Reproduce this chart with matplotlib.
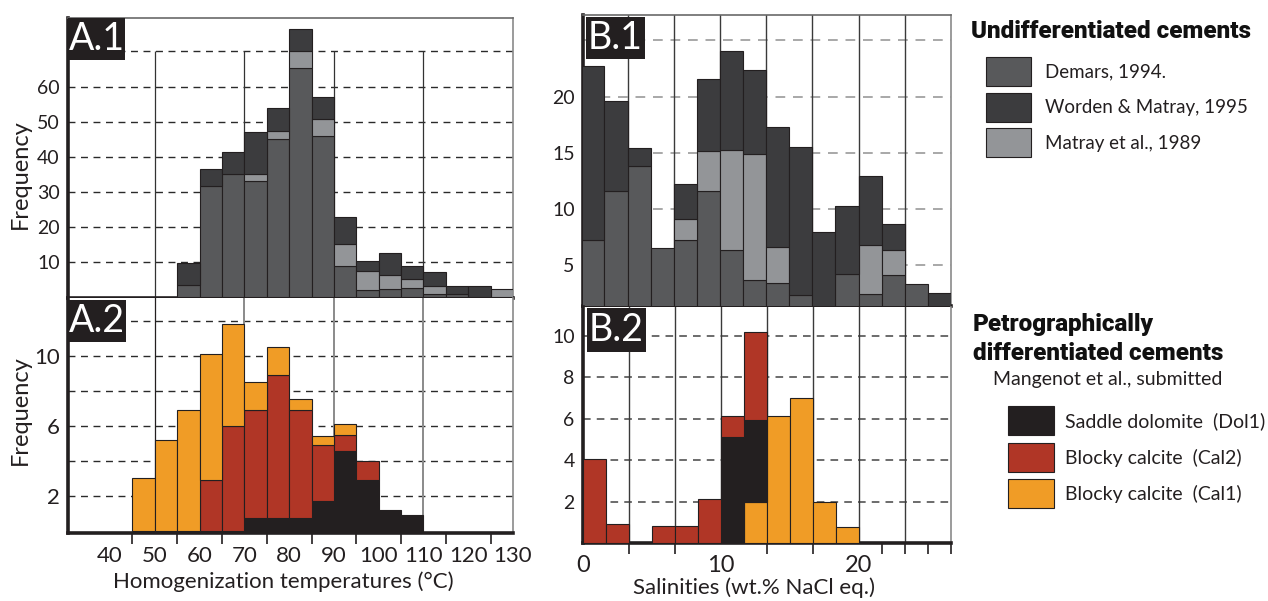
import numpy as np
import matplotlib
matplotlib.use('Agg')
import matplotlib.pyplot as plt
from matplotlib.patches import Rectangle

plt.rcParams['font.family'] = ['Lato', 'DejaVu Sans']

# colours
c_demars = '#58595b'
c_worden = '#3c3c3e'
c_matray = '#939598'
c_dol1 = '#231f20'
c_cal2 = '#b03626'
c_cal1 = '#f09c26'
c_edge = '#231f20'

# A.1 homogenization temperatures, undifferentiated cements (5 degC bins)
a1_bins = [55, 60, 65, 70, 75, 80, 85, 90, 95, 100, 105, 110, 115, 120, 125]
a1_demars = [3.5, 31.6, 35.0, 33.1, 45.2, 65.3, 46.0, 8.8, 2.1, 2.4, 2.6, 0.9, 0.9, 0, 0]
a1_matray = [0, 0, 0, 2.1, 2.2, 4.7, 4.8, 6.4, 5.4, 4.0, 2.6, 2.4, 0, 0, 2.3]
a1_worden = [6.4, 4.9, 6.4, 11.9, 6.5, 6.5, 6.2, 7.6, 2.7, 6.2, 3.6, 3.9, 2.2, 3.2, 0]

# A.2 homogenization temperatures, petrographically differentiated cements
a2_bins = [45, 50, 55, 60, 65, 70, 75, 80, 85, 90, 95, 100, 105]
a2_dol1 = [0, 0, 0, 0, 0, 0.73, 0.73, 0.73, 1.7, 4.6, 2.9, 1.24, 0.92]
a2_cal2 = [0, 0, 0, 2.9, 6.0, 6.2, 8.2, 6.2, 3.2, 0.9, 1.1, 0, 0]
a2_cal1 = [3.05, 5.2, 6.9, 7.2, 5.8, 1.6, 1.55, 0.6, 0.55, 0.6, 0, 0, 0]

# B.1 salinities, undifferentiated cements (bins of 5/3 wt.%)
b_width = 5 / 3
b1_bins = [i * b_width for i in range(16)]
b1_demars = [7.2, 11.6, 13.8, 6.5, 7.2, 11.6, 6.3, 3.6, 3.4, 2.3, 0, 4.2, 2.4, 4.1, 3.3, 0]
b1_matray = [0, 0, 0, 0, 1.9, 3.5, 8.9, 11.3, 3.2, 0, 0, 0, 4.4, 2.2, 0, 0]
b1_worden = [15.5, 8.0, 1.6, 0, 3.1, 6.5, 8.9, 7.5, 10.7, 13.2, 7.9, 6.0, 6.1, 2.3, 0, 2.5]

# B.2 salinities, petrographically differentiated cements
b2_bins = [i * b_width for i in range(12)]
b2_cal1 = [0, 0, 0, 0, 0, 0, 0, 2.0, 6.15, 7.0, 2.0, 0.75]
b2_dol1 = [0, 0, 0, 0, 0, 0, 5.14, 3.94, 0, 0, 0, 0]
b2_cal2 = [4.06, 0.92, 0, 0.84, 0.84, 2.14, 1.0, 4.23, 0, 0, 0, 0]

W, H = 1268, 601
fig = plt.figure(figsize=(W / 100, H / 100), dpi=100)


def box(l, t, r, b):
    return [l / W, 1 - b / H, (r - l) / W, (b - t) / H]


def stack(ax, x, width, layers):
    x = np.array(x, float)
    bottom = np.zeros(len(x))
    for vals, col in layers:
        vals = np.array(vals, float)
        m = vals > 0
        ax.bar(x[m], vals[m], width=width, bottom=bottom[m], align='edge',
               color=col, edgecolor=c_edge, linewidth=0.8, zorder=3)
        bottom += vals


def frame(ax, top=True):
    for s in ['left', 'bottom']:
        ax.spines[s].set_linewidth(2.6)
        ax.spines[s].set_color('#231f20')
    ax.spines['right'].set_linewidth(1.2)
    ax.spines['right'].set_color('#8a8a8a')
    if top:
        ax.spines['top'].set_linewidth(1.2)
        ax.spines['top'].set_color('#6a6a6a')
    else:
        ax.spines['top'].set_visible(False)


def hgrid(ax, ys, color, lw):
    for y in ys:
        ax.axhline(y, color=color, lw=lw, ls=(0, (5, 4)), zorder=1)


# ---- A.1
ax = fig.add_axes(box(68, 18, 513, 298))
ax.set_xlim(30.6, 130)
ax.set_ylim(-0.2, 79.5)
hgrid(ax, range(10, 71, 10), '#2a2a2a', 1.0)
ax.vlines([50, 70, 90, 110], 0, 70, color='#333333', lw=0.9, zorder=1)
stack(ax, a1_bins, 5, [(a1_demars, c_demars), (a1_matray, c_matray), (a1_worden, c_worden)])
ax.set_xticks([])
ax.set_yticks(range(10, 61, 10))
ax.tick_params(axis='y', length=0, pad=6, labelsize=14, colors='#231f20')
frame(ax)

# ---- A.2
ax = fig.add_axes(box(68, 298, 513, 533))
ax.set_xlim(30.6, 130)
ax.set_ylim(-0.1, 13.3)
hgrid(ax, range(2, 13, 2), '#2a2a2a', 1.0)
ax.axvline(50, color='#231f20', lw=0.9, zorder=1)
for xv in [70, 90, 110]:
    ax.axvline(xv, color='#8a8a8a', lw=1.4, zorder=1)
stack(ax, a2_bins, 5, [(a2_dol1, c_dol1), (a2_cal2, c_cal2), (a2_cal1, c_cal1)])
ax.set_xticks(range(40, 131, 10))
ax.set_xticks(range(45, 130, 10), minor=True)
ax.set_yticks([2, 6, 10])
ax.tick_params(axis='x', which='major', length=0, pad=9, labelsize=16, colors='#231f20')
ax.tick_params(axis='x', which='minor', length=8, width=1.2, direction='out', colors='#231f20')
ax.tick_params(axis='y', length=0, pad=6, labelsize=16, colors='#231f20')
frame(ax, top=False)

# ---- B.1
ax = fig.add_axes(box(583, 15, 951, 306))
ax.set_xlim(0.12, 80 / 3)
ax.set_ylim(1.32, 27.27)
hgrid(ax, range(5, 26, 5), '#a8a8a8', 1.4)
for k in range(1, 8):
    ax.axvline(k * 10 / 3, color='#3a3a3a', lw=1.0, zorder=1)
stack(ax, b1_bins, b_width, [(b1_demars, c_demars), (b1_matray, c_matray), (b1_worden, c_worden)])
ax.set_xticks([])
ax.set_yticks([5, 10, 15, 20])
ax.tick_params(axis='y', length=0, pad=6, labelsize=14, colors='#231f20')
frame(ax)

# ---- B.2
ax = fig.add_axes(box(583, 307, 951, 543))
ax.set_xlim(0.12, 80 / 3)
ax.set_ylim(0, 11.4)
hgrid(ax, range(2, 11, 2), '#444444', 1.1)
for k in range(1, 8):
    ax.axvline(k * 10 / 3, color='#3a3a3a', lw=1.0, zorder=1)
stack(ax, b2_bins, b_width, [(b2_cal1, c_cal1), (b2_dol1, c_dol1), (b2_cal2, c_cal2)])
ax.set_xticks([0, 10, 20])
ax.set_xticks([k * 10 / 3 for k in range(1, 9)] + [65 / 3, 75 / 3], minor=True)
ax.set_yticks(range(2, 11, 2))
ax.tick_params(axis='x', which='major', length=0, pad=9, labelsize=17, colors='#231f20')
ax.tick_params(axis='x', which='minor', length=8, width=1.2, direction='out', colors='#231f20')
ax.tick_params(axis='y', length=0, pad=6, labelsize=14, colors='#231f20')
frame(ax, top=False)

# panel tags
for s, (l, t, r, b) in {'A.1': (68, 18, 125, 60), 'A.2': (68, 300, 126, 342),
                        'B.1': (586, 17, 645, 59), 'B.2': (587, 308, 646, 352)}.items():
    fig.patches.append(Rectangle((l / W, 1 - b / H), (r - l) / W, (b - t) / H,
                                 transform=fig.transFigure, fc='#231f20', ec='none', zorder=20))
    fig.text((l + r) / 2 / W, 1 - (t + b) / 2 / H, s, color='white', fontsize=27,
             ha='center', va='center', zorder=21)

# axis titles
fig.text(20 / W, 1 - 174 / H, 'Frequency', rotation=90, ha='center', va='center', fontsize=17, color='#231f20')
fig.text(20 / W, 1 - 410 / H, 'Frequency', rotation=90, ha='center', va='center', fontsize=17, color='#231f20')
fig.text(283 / W, 1 - 582 / H, 'Homogenization temperatures (°C)', ha='center', va='center', fontsize=16, color='#231f20')
fig.text(754 / W, 1 - 588 / H, 'Salinities (wt.% NaCl eq.)', ha='center', va='center', fontsize=16, color='#231f20')

# legends
heavy = dict(family=['Roboto', 'DejaVu Sans'], fontweight='black', color='#111111')
fig.text(971 / W, 1 - 32 / H, 'Undifferentiated cements', ha='left', va='center', fontsize=17.5, **heavy)
fig.text(973 / W, 1 - 325 / H, 'Petrographically', ha='left', va='center', fontsize=17.5, **heavy)
fig.text(973 / W, 1 - 353 / H, 'differentiated cements', ha='left', va='center', fontsize=17.5, **heavy)
fig.text(993 / W, 1 - 380 / H, 'Mangenot et al., submitted', ha='left', va='center', fontsize=14, color='#231f20')

leg1 = [('Demars, 1994.', c_demars), ('Worden & Matray, 1995', c_worden), ('Matray et al., 1989', c_matray)]
for i, (lab, col) in enumerate(leg1):
    t = 57 + i * 35.5
    fig.patches.append(Rectangle((986 / W, 1 - (t + 29) / H), 45 / W, 29 / H,
                                 transform=fig.transFigure, fc=col, ec=c_edge, lw=0.8))
    fig.text(1045 / W, 1 - (t + 15) / H, lab, ha='left', va='center', fontsize=13.5, color='#231f20')

leg2 = [('Saddle dolomite  (Dol1)', c_dol1), ('Blocky calcite  (Cal2)', c_cal2), ('Blocky calcite  (Cal1)', c_cal1)]
for i, (lab, col) in enumerate(leg2):
    t = 406 + i * 36.5
    fig.patches.append(Rectangle((1008 / W, 1 - (t + 29) / H), 46 / W, 29 / H,
                                 transform=fig.transFigure, fc=col, ec=c_edge, lw=0.8))
    fig.text(1065 / W, 1 - (t + 15) / H, lab, ha='left', va='center', fontsize=14, color='#231f20')

fig.savefig('out.png', dpi=100)
